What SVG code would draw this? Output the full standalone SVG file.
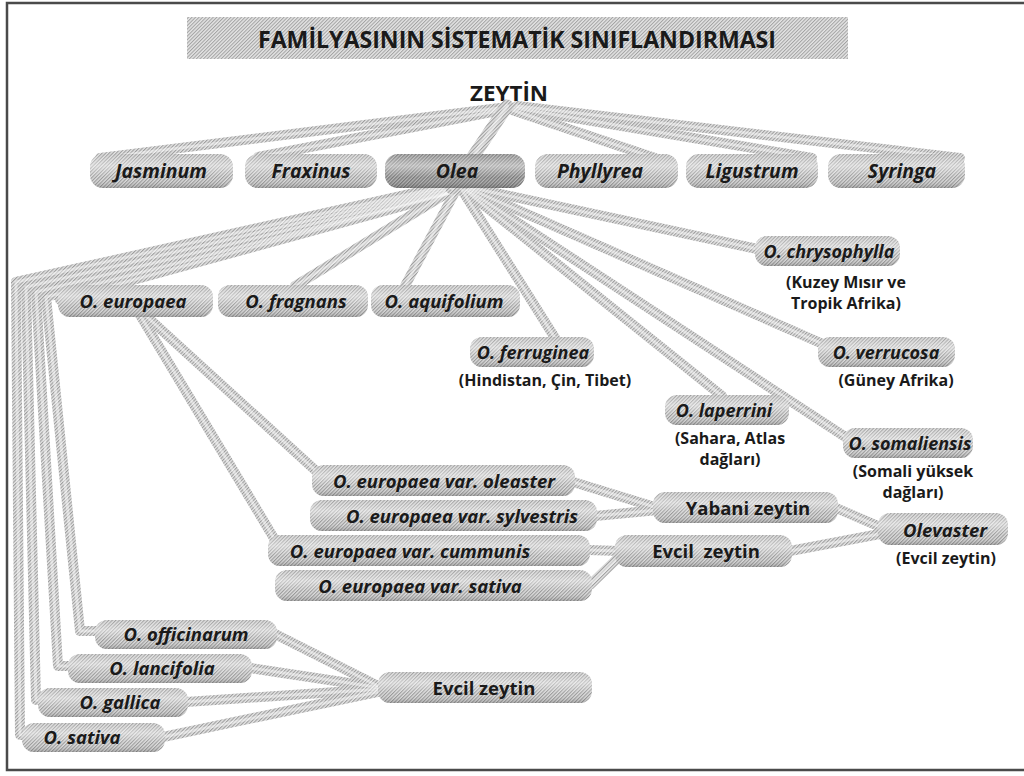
<svg xmlns="http://www.w3.org/2000/svg" xmlns:xlink="http://www.w3.org/1999/xlink" width="1024" height="776" viewBox="0 0 1024 776">
<style>
.t{font-family:"Open Sans","Liberation Sans",sans-serif;font-weight:700;fill:#1a1a1a;text-anchor:middle}
.i{font-style:italic}
.s19{font-size:19.5px}.s18{font-size:18.5px}.s17{font-size:18px}.s15{font-size:16px}
.cap{fill:url(#hatch)}
.dark{fill:url(#hatchDark)}
.shade{fill:url(#shade)}
.tube{fill:none;stroke:url(#hatchTube);stroke-width:10;stroke-linejoin:round;stroke-linecap:round}
.hl{fill:none;stroke:#ffffff;stroke-opacity:.45;stroke-width:3;stroke-linejoin:round;stroke-linecap:round}
</style>
<defs>
<pattern id="hatch" width="2.5" height="2.5" patternUnits="userSpaceOnUse" patternTransform="rotate(45)"><rect width="2.5" height="2.5" fill="#dedede"/><rect width="1.1" height="2.5" fill="#989898"/></pattern>
<pattern id="hatchDark" width="2.5" height="2.5" patternUnits="userSpaceOnUse" patternTransform="rotate(45)"><rect width="2.5" height="2.5" fill="#b8b8b8"/><rect width="1.3" height="2.5" fill="#767676"/></pattern>
<pattern id="hatchTitle" width="2.5" height="2.5" patternUnits="userSpaceOnUse" patternTransform="rotate(45)"><rect width="2.5" height="2.5" fill="#e4e4e4"/><rect width="1" height="2.5" fill="#a2a2a2"/></pattern>
<pattern id="hatchTube" width="2.5" height="2.5" patternUnits="userSpaceOnUse" patternTransform="rotate(45)"><rect width="2.5" height="2.5" fill="#e6e6e6"/><rect width="1.1" height="2.5" fill="#9c9c9c"/></pattern>
<linearGradient id="shade" x1="0" y1="0" x2="0" y2="1">
<stop offset="0" stop-color="#ffffff" stop-opacity="0.05"/>
<stop offset="0.35" stop-color="#ffffff" stop-opacity="0.45"/>
<stop offset="0.7" stop-color="#ffffff" stop-opacity="0"/>
<stop offset="1" stop-color="#000000" stop-opacity="0.2"/>
</linearGradient>
<g id="wires">
<path d="M500,108 L100,158"/>
<path d="M502,110 L258,157"/>
<path d="M512,110 L655,158"/>
<path d="M515,108 L812,158"/>
<path d="M517,106 L960,158"/>
<path d="M446,186 L16,282 L20,735 L40,735"/>
<path d="M448,188 L26,287 L36,700 L55,700"/>
<path d="M450,190 L36,292 L58,666 L80,666"/>
<path d="M452,192 L46,297 L80,631 L105,631"/>
<path d="M454,192 L60,300"/>
<path d="M452,190 L295,286"/>
<path d="M456,190 L405,286"/>
<path d="M462,190 L555,338"/>
<path d="M465,190 L722,396"/>
<path d="M468,190 L850,440"/>
<path d="M470,189 L832,348"/>
<path d="M472,188 L762,250"/>
<path d="M145,315 L315,470"/>
<path d="M140,315 L275,540"/>
<path d="M570,481 L658,508"/>
<path d="M595,516 L658,510"/>
<path d="M836,508 L885,529"/>
<path d="M790,551 L885,533"/>
<path d="M588,550 L620,551"/>
<path d="M590,585 L620,556"/>
<path d="M275,634 L382,688"/>
<path d="M250,668 L382,688"/>
<path d="M186,702 L382,689"/>
<path d="M163,737 L382,691"/>
</g>
<path id="trunk" d="M507,106 L452,188"/>
</defs>

<rect x="7" y="3" width="1030" height="767" fill="#ffffff" stroke="#4a4a4a" stroke-width="2.5"/>

<g id="title">
<rect x="187" y="17" width="661" height="42" fill="url(#hatchTitle)"/>
<text class="t" x="517" y="48" font-size="24" textLength="518" lengthAdjust="spacingAndGlyphs">FAMİLYASININ SİSTEMATİK SINIFLANDIRMASI</text>
</g>

<g id="n-zeytin"><text class="t" x="509" y="101" font-size="21" textLength="78" lengthAdjust="spacingAndGlyphs">ZEYTİN</text></g>

<g id="connectors">
<use xlink:href="#wires" class="tube"/>
<use xlink:href="#wires" class="hl"/>
<use xlink:href="#trunk" class="tube" style="stroke-width:13"/>
<use xlink:href="#trunk" class="hl" style="stroke-width:4"/>
</g>

<g id="n-jasminum"><rect class="cap" x="90" y="154" width="143" height="34" rx="13"/><rect class="shade" x="90" y="154" width="143" height="34" rx="13"/><text class="t i s19" x="161" y="178">Jasminum</text></g>
<g id="n-fraxinus"><rect class="cap" x="245" y="154" width="132" height="34" rx="13"/><rect class="shade" x="245" y="154" width="132" height="34" rx="13"/><text class="t i s19" x="311" y="178">Fraxinus</text></g>
<g id="n-olea"><rect class="dark" x="385" y="154" width="140" height="34" rx="13"/><rect class="shade" x="385" y="154" width="140" height="34" rx="13"/><text class="t i s19" x="457" y="178">Olea</text></g>
<g id="n-phyllyrea"><rect class="cap" x="535" y="154" width="143" height="34" rx="13"/><rect class="shade" x="535" y="154" width="143" height="34" rx="13"/><text class="t i s19" x="600" y="178">Phyllyrea</text></g>
<g id="n-ligustrum"><rect class="cap" x="686" y="154" width="132" height="34" rx="13"/><rect class="shade" x="686" y="154" width="132" height="34" rx="13"/><text class="t i s19" x="752" y="178">Ligustrum</text></g>
<g id="n-syringa"><rect class="cap" x="828" y="154" width="137" height="34" rx="13"/><rect class="shade" x="828" y="154" width="137" height="34" rx="13"/><text class="t i s19" x="902" y="178">Syringa</text></g>

<g id="n-europaea"><rect class="cap" x="58" y="285" width="155" height="32" rx="12"/><rect class="shade" x="58" y="285" width="155" height="32" rx="12"/><text class="t i s18" x="133" y="308">O. europaea</text></g>
<g id="n-fragnans"><rect class="cap" x="218" y="285" width="150" height="32" rx="12"/><rect class="shade" x="218" y="285" width="150" height="32" rx="12"/><text class="t i s18" x="296" y="308">O. fragnans</text></g>
<g id="n-aquifolium"><rect class="cap" x="371" y="285" width="149" height="32" rx="12"/><rect class="shade" x="371" y="285" width="149" height="32" rx="12"/><text class="t i s18" x="444" y="308">O. aquifolium</text></g>

<g id="n-chrysophylla"><rect class="cap" x="755" y="236" width="145" height="30" rx="12"/><rect class="shade" x="755" y="236" width="145" height="30" rx="12"/><text class="t i s17" x="829" y="258">O. chrysophylla</text><text class="t s15" x="846" y="288">(Kuzey Mısır ve</text><text class="t s15" x="846" y="309">Tropik Afrika)</text></g>
<g id="n-ferruginea"><rect class="cap" x="470" y="337" width="124" height="30" rx="12"/><rect class="shade" x="470" y="337" width="124" height="30" rx="12"/><text class="t i s17" x="533" y="359">O. ferruginea</text><text class="t s15" x="545" y="386">(Hindistan, Çin, Tibet)</text></g>
<g id="n-verrucosa"><rect class="cap" x="818" y="337" width="137" height="30" rx="12"/><rect class="shade" x="818" y="337" width="137" height="30" rx="12"/><text class="t i s17" x="886" y="359">O. verrucosa</text><text class="t s15" x="896" y="386">(Güney Afrika)</text></g>
<g id="n-laperrini"><rect class="cap" x="665" y="395" width="124" height="30" rx="12"/><rect class="shade" x="665" y="395" width="124" height="30" rx="12"/><text class="t i s17" x="724" y="417">O. laperrini</text><text class="t s15" x="730" y="444">(Sahara, Atlas</text><text class="t s15" x="730" y="465">dağları)</text></g>
<g id="n-somaliensis"><rect class="cap" x="843" y="428" width="130" height="30" rx="12"/><rect class="shade" x="843" y="428" width="130" height="30" rx="12"/><text class="t i s17" x="910" y="450">O. somaliensis</text><text class="t s15" x="913" y="477">(Somali yüksek</text><text class="t s15" x="913" y="498">dağları)</text></g>

<g id="n-oleaster"><rect class="cap" x="312" y="465" width="263" height="31" rx="12"/><rect class="shade" x="312" y="465" width="263" height="31" rx="12"/><text class="t i s18" x="444" y="488">O. europaea var. oleaster</text></g>
<g id="n-sylvestris"><rect class="cap" x="310" y="500" width="287" height="31" rx="12"/><rect class="shade" x="310" y="500" width="287" height="31" rx="12"/><text class="t i s18" x="462" y="523">O. europaea var. sylvestris</text></g>
<g id="n-cummunis"><rect class="cap" x="268" y="535" width="322" height="31" rx="12"/><rect class="shade" x="268" y="535" width="322" height="31" rx="12"/><text class="t i s18" x="410" y="558">O. europaea var. cummunis</text></g>
<g id="n-var-sativa"><rect class="cap" x="275" y="570" width="317" height="31" rx="12"/><rect class="shade" x="275" y="570" width="317" height="31" rx="12"/><text class="t i s18" x="420" y="593">O. europaea var. sativa</text></g>

<g id="n-yabani"><rect class="cap" x="653" y="492" width="185" height="31" rx="12"/><rect class="shade" x="653" y="492" width="185" height="31" rx="12"/><text class="t s18" x="748" y="515">Yabani zeytin</text></g>
<g id="n-evcil1"><rect class="cap" x="615" y="535" width="177" height="32" rx="12"/><rect class="shade" x="615" y="535" width="177" height="32" rx="12"/><text class="t s18" x="706" y="558" xml:space="preserve">Evcil  zeytin</text></g>
<g id="n-olevaster"><rect class="cap" x="878" y="513" width="130" height="32" rx="12"/><rect class="shade" x="878" y="513" width="130" height="32" rx="12"/><text class="t i s18" x="945" y="537">Olevaster</text><text class="t s15" x="946" y="564">(Evcil zeytin)</text></g>

<g id="n-officinarum"><rect class="cap" x="95" y="620" width="182" height="29" rx="12"/><rect class="shade" x="95" y="620" width="182" height="29" rx="12"/><text class="t i s18" x="186" y="641">O. officinarum</text></g>
<g id="n-lancifolia"><rect class="cap" x="68" y="654" width="184" height="29" rx="12"/><rect class="shade" x="68" y="654" width="184" height="29" rx="12"/><text class="t i s18" x="162" y="675">O. lancifolia</text></g>
<g id="n-gallica"><rect class="cap" x="38" y="688" width="150" height="29" rx="12"/><rect class="shade" x="38" y="688" width="150" height="29" rx="12"/><text class="t i s18" x="120" y="709">O. gallica</text></g>
<g id="n-sativa"><rect class="cap" x="22" y="723" width="143" height="29" rx="12"/><rect class="shade" x="22" y="723" width="143" height="29" rx="12"/><text class="t i s18" x="82" y="744">O. sativa</text></g>
<g id="n-evcil2"><rect class="cap" x="378" y="672" width="214" height="31" rx="12"/><rect class="shade" x="378" y="672" width="214" height="31" rx="12"/><text class="t s18" x="484" y="695">Evcil zeytin</text></g>
</svg>
